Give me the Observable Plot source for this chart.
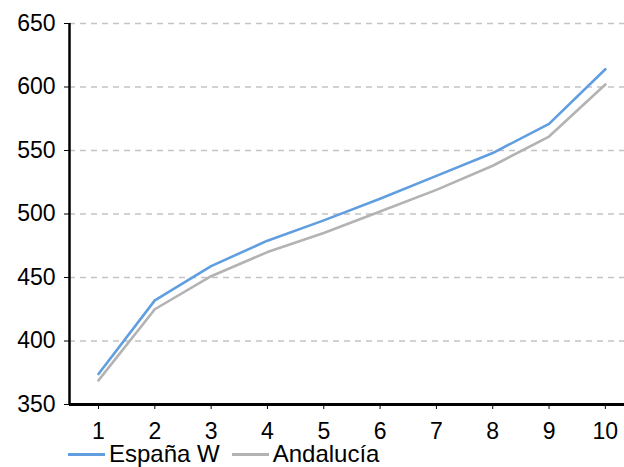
<!DOCTYPE html>
<html>
<head>
<meta charset="utf-8">
<script src="https://cdn.jsdelivr.net/npm/d3@7"></script>
<script src="https://cdn.jsdelivr.net/npm/@observablehq/plot@0.6"></script>
<style>
  html, body { margin: 0; padding: 0; background: #fff; width: 624px; height: 467px; overflow: hidden; }
  body { font-family: "Liberation Sans", Arial, sans-serif; }
  #chart svg { display: block; }
  #legend { display: flex; align-items: center; height: 24px; line-height: 24px; margin-top: 2px; margin-left: 68px; font-size: 24px; color: #000; white-space: nowrap; }
  .sw { display: inline-block; width: 37px; height: 3px; margin-right: 4px; }
  .item { display: flex; align-items: center; margin-right: 12px; }
</style>
</head>
<body>
<div id="chart"></div>
<div id="legend"></div>
<script>
const deciles = [1, 2, 3, 4, 5, 6, 7, 8, 9, 10];
const espanaW = [374, 432, 459, 479, 495, 512, 530, 548, 571, 614];
const andalucia = [369, 425, 451, 470, 485, 502, 519, 538, 561, 602];
const seriesNames = ["España W", "Andalucía"];
const seriesColors = ["#609ee0", "#b3b3b3"];
const yTicks = [350, 400, 450, 500, 550, 600, 650];
const xTicks = [1, 2, 3, 4, 5, 6, 7, 8, 9, 10];

const rows = [];
deciles.forEach((d, i) => {
  rows.push({x: d, y: espanaW[i], s: seriesNames[0]});
  rows.push({x: d, y: andalucia[i], s: seriesNames[1]});
});

const xDomain = [0.485, 10.34];
const yDomain = [350, 650];

const plot = Plot.plot({
  width: 624,
  height: 440,
  marginLeft: 69,
  marginRight: 0,
  marginTop: 23,
  marginBottom: 36,
  style: {fontFamily: "'Liberation Sans', Arial, sans-serif", fontSize: "23px", color: "#000", background: "#fff", overflow: "visible"},
  x: {domain: xDomain},
  y: {domain: yDomain},
  color: {domain: seriesNames, range: seriesColors},
  marks: [
    Plot.gridY(yTicks.slice(1), {stroke: "#c4c4c4", strokeOpacity: 1, strokeDasharray: "6,5", strokeWidth: 1.3}),
    Plot.line(rows, {x: "x", y: "y", z: "s", stroke: "s", strokeWidth: 2.6}),
    Plot.axisY(yTicks, {tickSize: 5, tickPadding: 9, stroke: "#000", fontSize: 23, label: null}),
    Plot.axisX(xTicks, {tickSize: 5, tickPadding: 13, stroke: "#000", fontSize: 23, label: null}),
    Plot.ruleX([xDomain[0]], {stroke: "#000", strokeWidth: 2.5}),
    Plot.ruleY([yDomain[0]], {stroke: "#000", strokeWidth: 3})
  ]
});
document.getElementById("chart").appendChild(plot);

const legend = document.getElementById("legend");
seriesNames.forEach((n, i) => {
  const it = document.createElement("span");
  it.className = "item";
  const sw = document.createElement("span");
  sw.className = "sw";
  sw.style.background = seriesColors[i];
  it.appendChild(sw);
  const t = document.createElement("span");
  t.textContent = n;
  it.appendChild(t);
  legend.appendChild(it);
});
</script>
</body>
</html>
